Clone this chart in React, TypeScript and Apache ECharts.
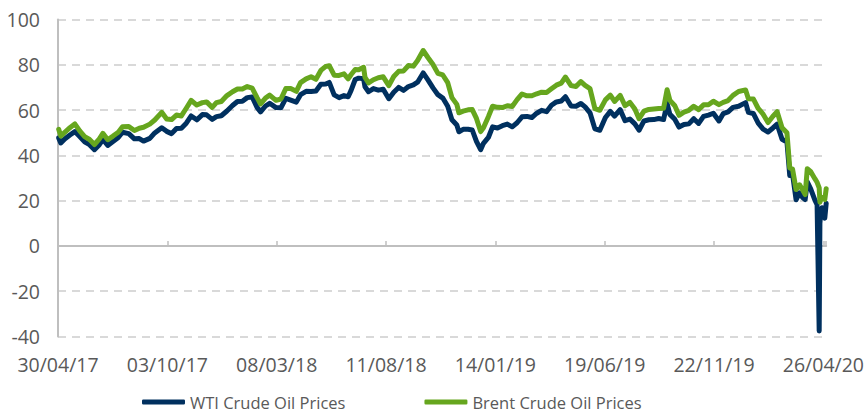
import React, { useEffect, useRef } from "react";
import * as echarts from "echarts";

const seriesNames = ["WTI Crude Oil Prices", "Brent Crude Oil Prices"];

const dates = [
  "2017-05-01","2017-05-04","2017-05-10","2017-05-17","2017-05-24","2017-05-31","2017-06-07","2017-06-14","2017-06-21","2017-06-28",
  "2017-07-03","2017-07-10","2017-07-17","2017-07-25","2017-07-31","2017-08-09","2017-08-17","2017-08-24","2017-08-30","2017-09-08",
  "2017-09-15","2017-09-25","2017-10-02","2017-10-09","2017-10-16","2017-10-23","2017-10-30","2017-11-06","2017-11-14","2017-11-22",
  "2017-11-28","2017-12-06","2017-12-12","2017-12-19","2017-12-27","2018-01-04","2018-01-11","2018-01-18","2018-01-25","2018-02-01",
  "2018-02-08","2018-02-13","2018-02-20","2018-02-26","2018-03-07","2018-03-14","2018-03-21","2018-03-28","2018-04-05","2018-04-11",
  "2018-04-19","2018-04-26","2018-05-03","2018-05-10","2018-05-17","2018-05-22","2018-05-29","2018-06-05","2018-06-12","2018-06-18",
  "2018-06-22","2018-06-28","2018-07-03","2018-07-10","2018-07-12","2018-07-17","2018-07-24","2018-07-31","2018-08-07","2018-08-15",
  "2018-08-22","2018-08-29","2018-09-05","2018-09-12","2018-09-19","2018-09-25","2018-10-03","2018-10-10","2018-10-17","2018-10-24",
  "2018-10-31","2018-11-07","2018-11-13","2018-11-20","2018-11-23","2018-11-29","2018-12-06","2018-12-12","2018-12-18","2018-12-24",
  "2018-12-28","2019-01-04","2019-01-10","2019-01-17","2019-01-24","2019-01-31","2019-02-07","2019-02-14","2019-02-21","2019-02-28",
  "2019-03-07","2019-03-14","2019-03-21","2019-03-28","2019-04-04","2019-04-11","2019-04-18","2019-04-24","2019-05-02","2019-05-09",
  "2019-05-16","2019-05-22","2019-05-29","2019-06-05","2019-06-12","2019-06-20","2019-06-27","2019-07-03","2019-07-11","2019-07-18",
  "2019-07-25","2019-08-01","2019-08-07","2019-08-14","2019-08-21","2019-08-28","2019-09-04","2019-09-11","2019-09-16","2019-09-20",
  "2019-09-27","2019-10-03","2019-10-10","2019-10-17","2019-10-24","2019-10-31","2019-11-07","2019-11-14","2019-11-21","2019-11-29",
  "2019-12-05","2019-12-12","2019-12-19","2019-12-27","2020-01-06","2020-01-10","2020-01-17","2020-01-24","2020-01-31","2020-02-07",
  "2020-02-14","2020-02-20","2020-02-27","2020-03-05","2020-03-09","2020-03-13","2020-03-18","2020-03-23","2020-03-27","2020-03-31",
  "2020-04-03","2020-04-08","2020-04-14","2020-04-17","2020-04-20","2020-04-21","2020-04-22","2020-04-24","2020-04-28","2020-04-30",
];

const wti = [
  47.7,45.5,47.3,49.0,50.5,48.3,46.0,44.7,42.5,44.7,
  47.0,44.4,46.0,47.9,50.2,49.6,47.3,47.4,46.3,47.5,
  49.9,52.2,50.6,49.6,51.9,52.0,54.2,57.4,55.7,58.0,
  57.9,55.9,57.1,57.5,59.6,62.0,63.8,63.9,65.5,65.8,
  61.2,59.2,61.8,63.0,61.1,61.0,65.2,64.4,63.5,66.8,
  68.3,68.2,68.4,71.4,71.5,72.2,66.7,65.5,66.4,65.9,
  68.6,73.5,74.1,73.8,70.3,68.1,69.5,68.8,69.2,65.0,
  67.9,70.0,68.7,70.4,71.1,72.3,76.4,73.2,69.8,66.8,
  65.3,61.7,55.7,53.4,50.4,51.5,51.5,51.2,46.2,42.5,
  45.3,47.9,52.6,52.1,53.1,53.8,52.6,54.4,57.0,57.2,
  56.7,58.6,59.9,59.3,62.1,63.6,64.0,65.9,61.8,61.7,
  62.9,61.4,58.8,51.7,51.1,56.7,59.4,57.3,60.2,55.3,
  56.0,53.9,51.1,55.2,55.7,55.8,56.3,55.8,62.9,58.1,
  55.9,52.5,53.6,53.9,56.2,54.1,57.2,57.8,58.6,55.2,
  58.4,59.2,61.2,61.7,63.3,59.0,58.5,54.2,51.6,50.3,
  52.1,53.8,47.1,45.9,31.1,31.7,20.4,23.4,21.5,20.5,
  28.3,25.1,20.1,18.3,-37.6,10.0,13.8,16.9,12.3,18.8,
];

const brent = [
  51.5,48.5,50.3,52.2,53.9,50.8,48.3,47.0,44.8,47.3,
  49.7,46.9,48.4,50.2,52.6,52.7,51.0,52.0,52.4,53.8,
  55.6,59.0,56.1,55.8,57.8,57.4,60.8,64.3,62.2,63.3,
  63.6,61.2,63.3,63.8,66.4,68.1,69.3,69.3,70.4,69.7,
  65.5,62.7,65.3,66.6,64.3,64.9,69.5,69.5,68.3,72.1,
  73.8,74.7,73.6,77.5,79.3,79.6,75.4,75.3,76.0,73.8,
  75.6,77.9,77.8,78.9,74.4,72.0,73.4,74.3,74.7,70.8,
  74.8,77.1,77.3,79.7,79.4,81.9,86.3,83.1,80.1,76.2,
  75.5,72.1,65.5,62.5,58.8,59.5,60.1,60.2,56.3,50.5,
  52.2,57.1,61.7,61.2,61.1,61.9,61.6,64.6,67.1,66.3,
  66.3,67.2,67.9,67.8,69.4,71.0,71.9,74.6,70.8,70.4,
  72.6,70.9,69.5,60.6,59.9,64.5,66.6,63.8,66.5,61.9,
  63.4,60.5,56.2,59.5,60.3,60.5,60.7,60.8,69.0,64.3,
  61.9,57.7,59.1,59.9,61.7,60.2,62.3,62.3,63.9,62.4,
  63.4,64.2,66.5,68.2,68.9,65.0,64.9,60.7,58.2,54.5,
  57.3,59.3,52.2,50.0,34.4,33.9,24.9,27.0,24.9,22.7,
  34.1,32.8,29.6,28.1,25.6,19.3,20.4,21.4,20.5,25.3,
];

const axisStartDate = "2017-04-30";
const axisEndDate = "2020-04-30";
const tickStepDays = 156;
const yMin = -40;
const yMax = 100;
const yStep = 20;

const DAY = 86400000;
const toMs = (s: string) => {
  const [y, m, d] = s.split("-").map(Number);
  return Date.UTC(y, m - 1, d);
};
const startMs = toMs(axisStartDate);
const dayOffset = (s: string) => Math.round((toMs(s) - startMs) / DAY);
const pad = (n: number) => (n < 10 ? "0" + n : "" + n);
const fmtDay = (v: number) => {
  const dt = new Date(startMs + v * DAY);
  return pad(dt.getUTCDate()) + "/" + pad(dt.getUTCMonth() + 1) + "/" + pad(dt.getUTCFullYear() % 100);
};

export default function App() {
  const ref = useRef<HTMLDivElement>(null);
  useEffect(() => {
    if (!ref.current) return;
    const chart = echarts.init(ref.current, null, { renderer: "svg" });
    const font = "'Open Sans', 'Noto Sans', sans-serif";
    const textColor = "#595959";
    const wtiData = dates.map((d, i) => [dayOffset(d), wti[i]]);
    const brentData = dates.map((d, i) => [dayOffset(d), brent[i]]);
    chart.setOption({
      animation: false,
      backgroundColor: "#ffffff",
      grid: { left: 58, right: 38, top: 19.5, bottom: 75.5, containLabel: false },
      legend: {
        left: 142,
        top: 393,
        padding: 0,
        itemWidth: 43,
        itemHeight: 5,
        itemGap: 79,
        icon: "roundRect",
        textStyle: { color: textColor, fontFamily: font, fontSize: 16.5, lineHeight: 18 },
        data: seriesNames,
      },
      xAxis: {
        type: "value",
        min: 0,
        max: dayOffset(axisEndDate),
        interval: tickStepDays,
        axisLine: { show: true, lineStyle: { color: "#bfbfbf", width: 2 } },
        axisTick: { show: true, inside: true, length: 5, lineStyle: { color: "#bfbfbf", width: 1.5 } },
        splitLine: { show: false },
        axisLabel: {
          color: textColor,
          fontFamily: font,
          fontSize: 19.5,
          margin: 18,
          formatter: (v: number) => (v % tickStepDays === 0 ? fmtDay(v) : ""),
        },
      },
      yAxis: {
        type: "value",
        min: yMin,
        max: yMax,
        interval: yStep,
        axisLine: { show: true, lineStyle: { color: "#bfbfbf", width: 2 } },
        axisTick: { show: false },
        splitLine: { show: true, lineStyle: { color: "#d9d9d9", width: 2, type: [8, 6] } },
        axisLabel: { color: textColor, fontFamily: font, fontSize: 19.5, margin: 18 },
      },
      series: [
        {
          name: seriesNames[0],
          type: "line",
          data: wtiData,
          showSymbol: false,
          symbol: "none",
          lineStyle: { color: "#00305f", width: 5, join: "round", cap: "round" },
          itemStyle: { color: "#00305f" },
          z: 2,
        },
        {
          name: seriesNames[1],
          type: "line",
          data: brentData,
          showSymbol: false,
          symbol: "none",
          lineStyle: { color: "#66a61e", width: 5, join: "round", cap: "round" },
          itemStyle: { color: "#66a61e" },
          z: 3,
        },
      ],
    });
    return () => chart.dispose();
  }, []);
  return (
    <div
      ref={ref}
      style={{ position: "fixed", left: 0, top: 0, width: 867, height: 412, background: "#fff" }}
    />
  );
}
